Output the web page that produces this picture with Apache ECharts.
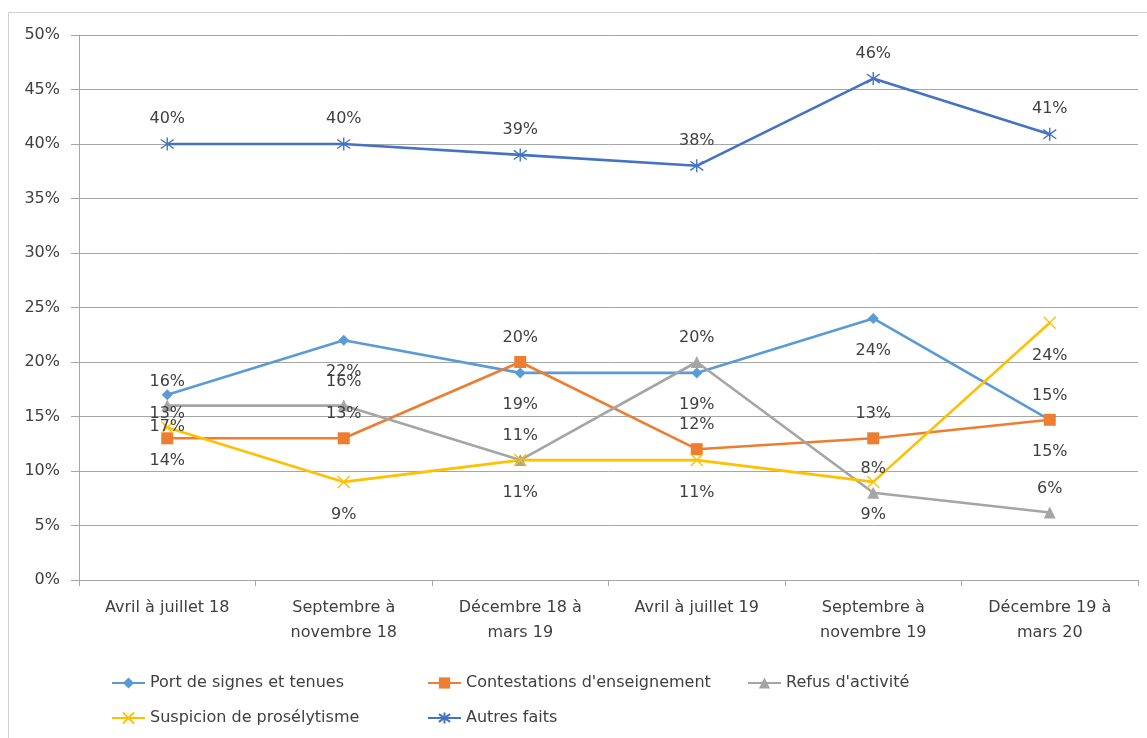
<!DOCTYPE html>
<html>
<head>
<meta charset="utf-8">
<script src="https://cdn.jsdelivr.net/npm/echarts@6/dist/echarts.min.js"></script>
<style>
  html, body { margin: 0; padding: 0; background: #fff; }
  #main { width: 1147px; height: 738px; }
</style>
</head>
<body>
<div id="main"></div>
<script>
const categories = ['Avril à juillet 18', 'Septembre à\nnovembre 18', 'Décembre 18 à\nmars 19',
  'Avril à juillet 19', 'Septembre à\nnovembre 19', 'Décembre 19 à\nmars 20'];
const portSignes = [17, 22, 19, 19, 24, 14.7];
const contestations = [13, 13, 20, 12, 13, 14.7];
const refus = [16, 16, 11, 20, 8, 6.2];
const suspicion = [14, 9, 11, 11, 9, 23.6];
const autres = [40, 40, 39, 38, 46, 40.9];

const chart = echarts.init(document.getElementById('main'));

const font = 'DejaVu Sans';
const txt = '#404040';
const crossPath = 'path://M0,0L10,10M10,0L0,10';
const starPath = 'path://M0,1.5L10,8.5M10,1.5L0,8.5M5,0L5,10';

function serie(name, data, color, symbol, size, pos) {
  return {
    name: name,
    type: 'line',
    data: data,
    symbol: symbol,
    symbolSize: size,
    showAllSymbol: true,
    lineStyle: { color: color, width: 2.6 },
    itemStyle: { color: color, borderColor: color, borderWidth: symbol.indexOf('path') === 0 ? 1.4 : 0 },
    label: {
      show: true,
      position: pos,
      distance: pos === 'top' ? 10 : 18.5,
      color: txt,
      fontFamily: font,
      fontSize: 16,
      formatter: p => Math.round(p.value) + '%'
    },
    emphasis: { disabled: true },
    animation: false
  };
}

const legendText = { fontFamily: font, fontSize: 16, color: txt };

const option = {
  backgroundColor: '#fff',
  graphic: [{
    type: 'rect',
    shape: { x: 8.5, y: 12.5, width: 1150, height: 740 },
    style: { fill: 'none', stroke: '#d0d0d0', lineWidth: 1 },
    silent: true
  }],
  grid: { left: 79, right: 9, top: 35, bottom: 158 },
  legend: [
    {
      left: 106, top: 670, orient: 'vertical', itemGap: 19,
      itemWidth: 33, itemHeight: 14, textStyle: legendText,
      data: ['Port de signes et tenues', 'Suspicion de prosélytisme']
    },
    {
      left: 422, top: 670, orient: 'vertical', itemGap: 19,
      itemWidth: 33, itemHeight: 14, textStyle: legendText,
      data: ['Contestations d\'enseignement', 'Autres faits']
    },
    {
      left: 742, top: 670, orient: 'vertical', itemGap: 19,
      itemWidth: 33, itemHeight: 14, textStyle: legendText,
      data: ['Refus d\'activité']
    }
  ],
  xAxis: {
    type: 'category',
    data: categories,
    boundaryGap: true,
    axisLine: { lineStyle: { color: '#a6a6a6', width: 1 } },
    axisTick: { show: true, length: 6, lineStyle: { color: '#a6a6a6' } },
    axisLabel: {
      color: txt, fontFamily: font, fontSize: 16,
      margin: 15, lineHeight: 25, interval: 0
    }
  },
  yAxis: {
    type: 'value',
    min: 0, max: 50, interval: 5,
    axisLine: { show: true, lineStyle: { color: '#a6a6a6', width: 1 } },
    axisTick: { show: true, length: 8, lineStyle: { color: '#a6a6a6' } },
    axisLabel: {
      color: txt, fontFamily: font, fontSize: 16, margin: 19,
      formatter: '{value}%'
    },
    splitLine: { lineStyle: { color: '#a6a6a6', width: 1 } }
  },
  series: [
    serie('Port de signes et tenues', portSignes, '#5B9BD5', 'diamond', 11, 'bottom'),
    serie('Contestations d\'enseignement', contestations, '#ED7D31', 'rect', 12, 'top'),
    serie('Refus d\'activité', refus, '#A5A5A5', 'triangle', 12, 'top'),
    serie('Suspicion de prosélytisme', suspicion, '#FFC000', crossPath, 12, 'bottom'),
    serie('Autres faits', autres, '#4472C4', starPath, 13, 'top')
  ]
};

chart.setOption(option);
</script>
</body>
</html>
